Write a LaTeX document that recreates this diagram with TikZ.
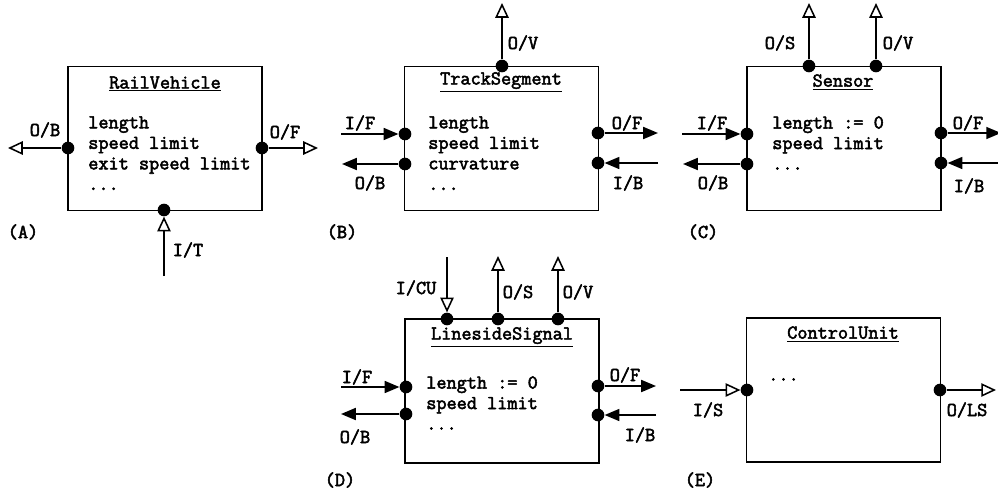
\documentclass[tikz,border=0pt]{standalone}
\usepackage{fontspec}
\setmonofont[AutoFakeBold=2.6]{Latin Modern Mono}
\usetikzlibrary{arrows.meta}
\newcommand{\cls}[1]{\underline{\textbf{#1}}}
\begin{document}
\begin{tikzpicture}[x=0.025cm,y=-0.025cm,
    font=\ttfamily\bfseries\fontsize{14}{14.6}\selectfont,
    blk/.style={draw,line width=1.3pt,minimum width=4.85cm,minimum height=3.6cm},
    port/.style={circle,fill,inner sep=0pt,minimum size=9pt},
    body/.style={anchor=north west,align=left,inner sep=0pt},
    full/.style={line width=1.3pt,-{Triangle[length=10.5pt,width=8.5pt]}},
    open/.style={line width=1.3pt,-{Triangle[open,length=10.5pt,width=9.5pt,line width=1.1pt]}}]
\useasboundingbox (0,0) rectangle (998,494);

% (A) rail vehicle
\node[blk] (rv) at (165,138.5) {};
\node (rvT) at (165,84) {\cls{RailVehicle}};
\node[body] (rvX) at (88,116) {length\\speed limit\\exit speed limit\\...};
\node[port] (rvOB) at (68,148) {};
\node[port] (rvOF) at (262,148) {};
\node[port] (rvIT) at (164,210) {};
\coordinate (rvOBe) at (8,148);
\coordinate (rvOFe) at (318,148);
\coordinate (rvITs) at (164,276);
\draw[open] (rvOB) -- (rvOBe);
\draw[open] (rvOF) -- (rvOFe);
\draw[open] (rvITs) -- (rvIT);
\node (rvLOB) at (45,130) {O/B};
\node (rvLOF) at (285,132) {O/F};
\node (rvLIT) at (188,250) {I/T};
\node (lblA) at (23,232) {(A)};

% (B) track segment
\node[blk] (ts) at (501.5,138.5) {};
\node (tsT) at (501,82) {\cls{TrackSegment}};
\node[body] (tsX) at (428,116) {length\\speed limit\\curvature\\...};
\node[port] (tsOV) at (502,66) {};
\node[port] (tsIF) at (405,134) {};
\node[port] (tsOB) at (405,164) {};
\node[port] (tsOF) at (598,133) {};
\node[port] (tsIB) at (598,163) {};
\coordinate (tsOVe) at (502,3);
\coordinate (tsIFs) at (341,134);
\coordinate (tsOBe) at (342,164);
\coordinate (tsOFe) at (658,133);
\coordinate (tsIBs) at (658,163);
\draw[open] (tsOV) -- (tsOVe);
\draw[full] (tsIFs) -- (tsIF);
\draw[full] (tsOB) -- (tsOBe);
\draw[full] (tsOF) -- (tsOFe);
\draw[full] (tsIBs) -- (tsIB);
\node (tsLOV) at (523,43) {O/V};
\node (tsLIF) at (360,123) {I/F};
\node (tsLOB) at (370,183) {O/B};
\node (tsLOF) at (627,123) {O/F};
\node (tsLIB) at (628,183) {I/B};
\node (lblB) at (342,232) {(B)};

% (C) sensor
\node[blk] (se) at (844,138.5) {};
\node (seT) at (843,82) {\cls{Sensor}};
\node[body] (seX) at (772,116) {length := 0\\speed limit\\...};
\node[port] (seOS) at (809,66) {};
\node[port] (seOV) at (876,66) {};
\node[port] (seIF) at (747,134) {};
\node[port] (seOB) at (747,164) {};
\node[port] (seOF) at (941,133) {};
\node[port] (seIB) at (941,163) {};
\coordinate (seOSe) at (809,3);
\coordinate (seOVe) at (876,3);
\coordinate (seIFs) at (682,134);
\coordinate (seOBe) at (683,164);
\coordinate (seOFe) at (1001,133);
\coordinate (seIBs) at (1001,163);
\draw[open] (seOS) -- (seOSe);
\draw[open] (seOV) -- (seOVe);
\draw[full] (seIFs) -- (seIF);
\draw[full] (seOB) -- (seOBe);
\draw[full] (seOF) -- (seOFe);
\draw[full] (seIBs) -- (seIB);
\node (seLOS) at (780,43) {O/S};
\node (seLOV) at (898,43) {O/V};
\node (seLIF) at (712,123) {I/F};
\node (seLOB) at (713,183) {O/B};
\node (seLOF) at (968,123) {O/F};
\node (seLIB) at (969,186) {I/B};
\node (lblC) at (703,232) {(C)};

% (D) lineside signal
\node[blk] (ls) at (502,391) {};
\node (lsT) at (502,337) {\cls{LinesideSignal}};
\node[body] (lsX) at (426,376) {length := 0\\speed limit\\...};
\node[port] (lsICU) at (447,319) {};
\node[port] (lsOS) at (498,319) {};
\node[port] (lsOV) at (558,319) {};
\node[port] (lsIF) at (406,387) {};
\node[port] (lsOB) at (406,414) {};
\node[port] (lsOF) at (598,386) {};
\node[port] (lsIB) at (598,415) {};
\coordinate (lsICUs) at (447,257);
\coordinate (lsOSe) at (498,256);
\coordinate (lsOVe) at (558,256);
\coordinate (lsIFs) at (341,387);
\coordinate (lsOBe) at (341,414);
\coordinate (lsOFe) at (656,386);
\coordinate (lsIBs) at (656,415);
\draw[open] (lsICUs) -- (lsICU);
\draw[open] (lsOS) -- (lsOSe);
\draw[open] (lsOV) -- (lsOVe);
\draw[full] (lsIFs) -- (lsIF);
\draw[full] (lsOB) -- (lsOBe);
\draw[full] (lsOF) -- (lsOFe);
\draw[full] (lsIBs) -- (lsIB);
\node (lsLICU) at (416,288) {I/CU};
\node (lsLOS) at (518,292) {O/S};
\node (lsLOV) at (578,292) {O/V};
\node (lsLIF) at (357,377) {I/F};
\node (lsLOB) at (355,437) {O/B};
\node (lsLOF) at (625,375) {O/F};
\node (lsLIB) at (640,435) {I/B};
\node (lblD) at (340,480) {(D)};

% (E) control unit
\node[blk] (cu) at (843.5,390) {};
\node (cuT) at (843,334) {\cls{ControlUnit}};
\node[body] (cuX) at (768,378) {...};
\node[port] (cuIS) at (747,390) {};
\node[port] (cuOLS) at (940,390) {};
\coordinate (cuISs) at (680,390);
\coordinate (cuOLSe) at (996,390);
\draw[open] (cuISs) -- (cuIS);
\draw[open] (cuOLS) -- (cuOLSe);
\node (cuLIS) at (708,410) {I/S};
\node (cuLOLS) at (967,410) {O/LS};
\node (lblE) at (700,480) {(E)};

\end{tikzpicture}
\end{document}
